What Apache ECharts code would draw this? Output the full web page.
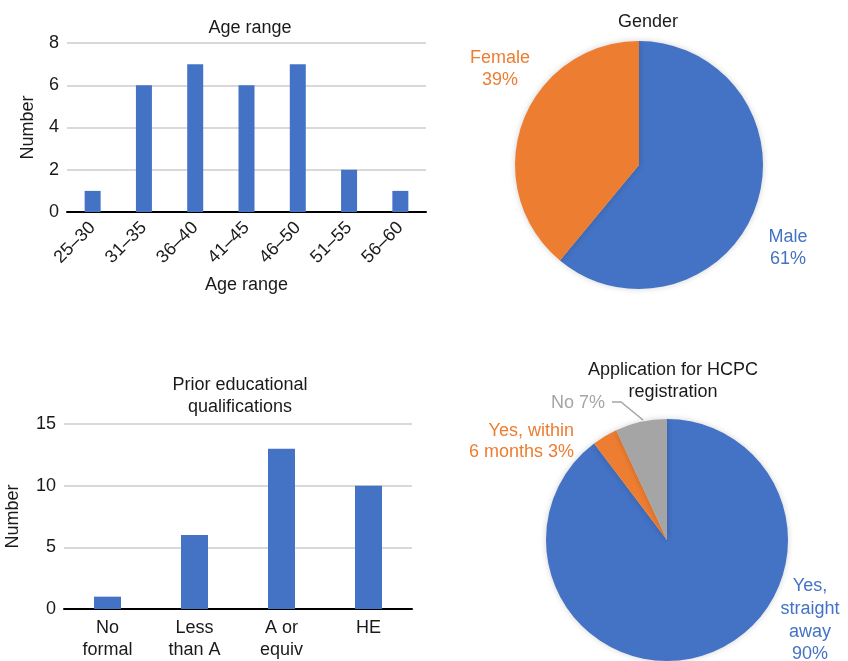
<!DOCTYPE html>
<html>
<head>
<meta charset="utf-8">
<script src="https://cdn.jsdelivr.net/npm/echarts@6/dist/echarts.min.js"></script>
<style>
  html, body { margin: 0; padding: 0; background: #ffffff; }
  #chart { width: 848px; height: 661px; }
</style>
</head>
<body>
<div id="chart"></div>
<script>
// data
const ageCategories = ['25–30', '31–35', '36–40', '41–45', '46–50', '51–55', '56–60'];
const ageCounts = [1, 6, 7, 6, 7, 2, 1];

const genderNames = ['Male', 'Female'];
const genderShares = [61, 39];

const qualCategories = ['No\nformal', 'Less\nthan A', 'A or\nequiv', 'HE'];
const qualCounts = [1, 6, 13, 10];

const hcpcNames = ['Yes,\nstraight\naway', 'Yes, within\n6 months', 'No'];
const hcpcShares = [89.7, 3.4, 6.9];

const BLUE = '#4472C4';
const ORANGE = '#ED7D31';
const GREY = '#A5A5A5';
const FONT = '"Liberation Sans", Arial, sans-serif';
const TEXT = '#1a1a1a';
const GRID_LINE = '#d9d9d9';
const FS = 18;

const chart = echarts.init(document.getElementById('chart'));

const titleStyle = { color: TEXT, fontSize: FS, fontWeight: 'normal', fontFamily: FONT, lineHeight: 22 };
const tickStyle = { color: TEXT, fontSize: FS, fontFamily: FONT };

function catAxis(gridIndex, data, extra) {
  return Object.assign({
    type: 'category',
    gridIndex,
    data,
    axisTick: { show: false },
    axisLine: { lineStyle: { color: '#000', width: 2 } },
    axisLabel: Object.assign({}, tickStyle)
  }, extra || {});
}

function valAxis(gridIndex, max, interval, nameGap) {
  return {
    type: 'value',
    gridIndex,
    min: 0,
    max,
    interval,
    name: 'Number',
    nameLocation: 'middle',
    nameRotate: 90,
    nameGap,
    nameTextStyle: Object.assign({}, tickStyle),
    axisLabel: Object.assign({ margin: 8 }, tickStyle),
    axisLine: { show: false },
    axisTick: { show: false },
    splitLine: { lineStyle: { color: GRID_LINE, width: 2 } }
  };
}

// label spots for the pie callouts (text only)
const genderLabelSpots = [
  { x: 788, y: 226, align: 'center', verticalAlign: 'top' },
  { x: 500, y: 47, align: 'center', verticalAlign: 'top' }
];
const hcpcLabelSpots = [
  { x: 810, y: 575, align: 'center', verticalAlign: 'top' },
  { x: 574, y: 421, align: 'right', verticalAlign: 'top' },
  { x: 605, y: 403, align: 'right', verticalAlign: 'middle',
    labelLinePoints: [[612, 402], [621, 402], [643, 420]] }
];

const option = {
  animation: false,
  backgroundColor: '#ffffff',
  textStyle: { fontFamily: FONT },
  title: [
    { text: 'Age range', left: 245, top: 12, textAlign: 'center', textStyle: titleStyle },
    { text: 'Gender', left: 643, top: 6, textAlign: 'center', textStyle: titleStyle },
    { text: 'Prior educational\nqualifications', left: 235, top: 369, textAlign: 'center', textStyle: titleStyle },
    { text: 'Application for HCPC\nregistration', left: 668, top: 354, textAlign: 'center', textStyle: titleStyle }
  ],
  grid: [
    { left: 67, right: 422, top: 43, bottom: 449 },
    { left: 64, right: 436, top: 424, bottom: 49 }
  ],
  xAxis: [
    catAxis(0, ageCategories, {
      name: 'Age range',
      nameLocation: 'middle',
      nameGap: 64,
      nameTextStyle: Object.assign({}, tickStyle),
      axisLabel: Object.assign({ rotate: 45, margin: 13 }, tickStyle)
    }),
    catAxis(1, qualCategories, {
      axisLabel: Object.assign({ margin: 8, lineHeight: 22 }, tickStyle)
    })
  ],
  yAxis: [
    valAxis(0, 8, 2, 30),
    valAxis(1, 15, 5, 42)
  ],
  series: [
    {
      type: 'bar',
      xAxisIndex: 0,
      yAxisIndex: 0,
      data: ageCounts,
      barWidth: 16,
      itemStyle: { color: BLUE }
    },
    {
      type: 'bar',
      xAxisIndex: 1,
      yAxisIndex: 1,
      data: qualCounts,
      barWidth: 27,
      itemStyle: { color: BLUE }
    },
    {
      type: 'pie',
      center: [639, 165],
      radius: 124,
      startAngle: 90,
      clockwise: true,
      percentPrecision: 0,
      data: genderNames.map((name, i) => ({
        name,
        value: genderShares[i],
        itemStyle: { color: [BLUE, ORANGE][i] },
        label: { color: [BLUE, ORANGE][i] }
      })),
      itemStyle: { shadowBlur: 6, shadowColor: 'rgba(0,0,0,0.18)' },
      label: { show: true, formatter: '{b}\n{d}%', fontSize: FS, fontFamily: FONT, lineHeight: 22, overflow: 'none' },
      labelLine: { show: false },
      labelLayout: (params) => genderLabelSpots[params.dataIndex],
      emphasis: { disabled: true }
    },
    {
      type: 'pie',
      center: [667, 540],
      radius: 121,
      startAngle: 90,
      clockwise: true,
      percentPrecision: 0,
      data: hcpcNames.map((name, i) => ({
        name,
        value: hcpcShares[i],
        itemStyle: { color: [BLUE, ORANGE, GREY][i] },
        label: {
          color: [BLUE, ORANGE, GREY][i],
          formatter: i === 0 ? '{b}\n{d}%' : '{b} {d}%',
          lineHeight: i === 0 ? 22.7 : 21
        },
        labelLine: { show: i === 2, lineStyle: { color: GREY, width: 1.5 } }
      })),
      itemStyle: { shadowBlur: 6, shadowColor: 'rgba(0,0,0,0.18)' },
      label: { show: true, fontSize: FS, fontFamily: FONT, overflow: 'none' },
      labelLayout: (params) => hcpcLabelSpots[params.dataIndex],
      emphasis: { disabled: true }
    }
  ]
};

chart.setOption(option);
</script>
</body>
</html>
